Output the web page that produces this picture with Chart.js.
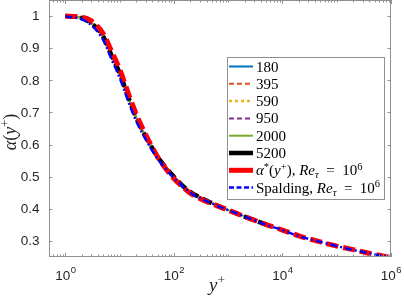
<!DOCTYPE html>
<html>
<head>
<meta charset="utf-8">
<script src="https://cdn.jsdelivr.net/npm/chart.js@4.4.1/dist/chart.umd.min.js"></script>
<style>
html,body{margin:0;padding:0;background:#fff}
#wrap{width:404px;height:305px}
</style>
</head>
<body>
<div id="wrap"><canvas id="c"></canvas></div>
<script>
// y+ grid of the DNS profiles (each one stops at its own Re_tau)
const yPlusDns = [1, 2, 3, 5, 7, 10, 15, 20, 30, 50, 70, 100, 180, 395, 590, 950, 2000, 5200];
const alpha180  = [1.000, 0.994, 0.978, 0.936, 0.880, 0.823, 0.740, 0.686, 0.626, 0.562, 0.530, 0.500, 0.460];
const alpha395  = [1.000, 0.994, 0.978, 0.936, 0.880, 0.823, 0.740, 0.686, 0.626, 0.562, 0.530, 0.500, 0.459, 0.427];
const alpha590  = [1.000, 0.994, 0.978, 0.936, 0.880, 0.823, 0.740, 0.686, 0.626, 0.562, 0.530, 0.500, 0.458, 0.426, 0.413];
const alpha950  = [1.000, 0.994, 0.978, 0.936, 0.880, 0.823, 0.740, 0.686, 0.626, 0.562, 0.530, 0.500, 0.458, 0.426, 0.412, 0.398];
const alpha2000 = [1.000, 0.994, 0.978, 0.936, 0.880, 0.823, 0.740, 0.686, 0.626, 0.562, 0.530, 0.500, 0.458, 0.426, 0.412, 0.397, 0.377];
const alpha5200 = [1.000, 0.994, 0.978, 0.936, 0.880, 0.823, 0.740, 0.686, 0.626, 0.562, 0.530, 0.500, 0.458, 0.426, 0.412, 0.397, 0.376, 0.350];

// model curves at Re_tau = 1e6
const yPlusModel = [1, 2, 3, 5, 7, 10, 15, 20, 30, 50, 70, 100, 150, 200, 300, 500, 700, 1000, 2000, 3000, 5000, 1e4, 2e4, 5e4, 1e5, 2e5, 5e5, 1e6];
const alphaStar = [1.000, 0.997, 0.985, 0.945, 0.893, 0.835, 0.752, 0.697, 0.632, 0.562, 0.526, 0.494, 0.466, 0.449, 0.432, 0.416, 0.406, 0.396, 0.376, 0.365, 0.351, 0.334, 0.316, 0.297, 0.284, 0.273, 0.258, 0.249];
const alphaSpalding = [0.999, 0.990, 0.972, 0.925, 0.868, 0.808, 0.727, 0.675, 0.617, 0.556, 0.525, 0.496, 0.468, 0.450, 0.433, 0.417, 0.406, 0.396, 0.376, 0.365, 0.350, 0.334, 0.315, 0.297, 0.284, 0.272, 0.258, 0.248];

const xTickVals = [1, 100, 1e4, 1e6];
const xTickExp = ['0', '2', '4', '6'];
const yTickVals = [0.3, 0.4, 0.5, 0.6, 0.7, 0.8, 0.9, 1];
const yTickText = ['0.3', '0.4', '0.5', '0.6', '0.7', '0.8', '0.9', '1'];

const legendLabels = [
  [{t: '180'}],
  [{t: '395'}],
  [{t: '590'}],
  [{t: '950'}],
  [{t: '2000'}],
  [{t: '5200'}],
  [{t: 'α', it: 1}, {t: '*', sup: 1}, {t: '('}, {t: 'y', it: 1}, {t: '+', sup: 1}, {t: '), '}, {t: 'Re', it: 1}, {t: 'τ', it: 1, sub: 1}, {t: '  =  10'}, {t: '6', sup: 1}],
  [{t: 'Spalding, '}, {t: 'Re', it: 1}, {t: 'τ', it: 1, sub: 1}, {t: '  =  10'}, {t: '6', sup: 1}]
];

function pts(xs, ys) {
  return ys.map((v, i) => ({x: xs[i], y: v}));
}

const series = [
  {data: pts(yPlusDns, alpha180), borderColor: '#0072BD', borderWidth: 2, borderDash: [], legendDash: []},
  {data: pts(yPlusDns, alpha395), borderColor: '#D95319', borderWidth: 2, borderDash: [6, 3], legendDash: [5, 3]},
  {data: pts(yPlusDns, alpha590), borderColor: '#EDB120', borderWidth: 2.5, borderDash: [2, 3], legendDash: [3, 3]},
  {data: pts(yPlusDns, alpha950), borderColor: '#7E2F8E', borderWidth: 2, borderDash: [6, 3, 2, 3], legendDash: [5, 3]},
  {data: pts(yPlusDns, alpha2000), borderColor: '#77AC30', borderWidth: 2, borderDash: [], legendDash: []},
  {data: pts(yPlusDns, alpha5200), borderColor: '#000000', borderWidth: 4.5, borderDash: [10, 5], legendDash: []},
  {data: pts(yPlusModel, alphaStar), borderColor: '#FF0000', borderWidth: 5, borderDash: [12, 5], legendDash: []},
  {data: pts(yPlusModel, alphaSpalding), borderColor: '#0000FF', borderWidth: 2.5, borderDash: [7, 3, 2, 3], legendDash: [5, 2.5]}
];

function drawRich(ctx, x, y, segs, size) {
  let cx = x;
  for (const s of segs) {
    const fs = (s.sup || s.sub) ? size * 0.7 : size;
    ctx.font = (s.it ? 'italic ' : '') + fs + 'px "Liberation Serif"';
    const dy = s.sup ? -size * 0.38 : (s.sub ? size * 0.2 : 0);
    ctx.fillText(s.t, cx, y + dy);
    cx += ctx.measureText(s.t).width;
  }
  return cx - x;
}

const framePlugin = {
  id: 'frame',
  afterDraw(chart) {
    const ctx = chart.ctx;
    const a = chart.chartArea;
    const xs = chart.scales.x, ys = chart.scales.y;
    ctx.save();
    // box
    ctx.strokeStyle = '#8f8f8f';
    ctx.lineWidth = 1;
    ctx.strokeRect(a.left + 0.5, a.top + 0.5, a.right - a.left - 1, a.bottom - a.top - 1);
    // ticks, inward
    ctx.beginPath();
    for (let e = -1; e <= 6; e++) {
      for (let m = 1; m <= 9; m++) {
        const v = m * Math.pow(10, e);
        if (v < xs.min || v > xs.max) continue;
        const px = Math.round(xs.getPixelForValue(v)) + 0.5;
        const len = xTickVals.includes(v) ? 4 : 2.5;
        ctx.moveTo(px, a.bottom); ctx.lineTo(px, a.bottom - len);
        ctx.moveTo(px, a.top); ctx.lineTo(px, a.top + len);
      }
    }
    for (const v of yTickVals) {
      const py = Math.round(ys.getPixelForValue(v)) + 0.5;
      ctx.moveTo(a.left, py); ctx.lineTo(a.left + 3.5, py);
      ctx.moveTo(a.right, py); ctx.lineTo(a.right - 3.5, py);
    }
    ctx.stroke();

    // y tick labels
    ctx.fillStyle = '#262626';
    ctx.font = '13.5px "Liberation Sans"';
    ctx.textAlign = 'right';
    ctx.textBaseline = 'middle';
    yTickVals.forEach((v, i) => {
      ctx.fillText(yTickText[i], 39.5, ys.getPixelForValue(v) + 0.5);
    });

    // x tick labels 10^n
    ctx.textBaseline = 'alphabetic';
    ctx.textAlign = 'left';
    xTickVals.forEach((v, i) => {
      const px = xs.getPixelForValue(v);
      ctx.font = '13.5px "Liberation Sans"';
      const w1 = ctx.measureText('10').width;
      ctx.font = '9.5px "Liberation Sans"';
      const w2 = ctx.measureText(xTickExp[i]).width;
      const x0 = px - (w1 + w2) / 2;
      ctx.font = '13.5px "Liberation Sans"';
      ctx.fillText('10', x0, 280);
      ctx.font = '9.5px "Liberation Sans"';
      ctx.fillText(xTickExp[i], x0 + w1 + 0.5, 273);
    });

    // axis titles
    ctx.fillStyle = '#262626';
    drawRich(ctx, 209, 291, [{t: 'y', it: 1}, {t: '+', sup: 1}], 19);
    ctx.save();
    ctx.translate(16, 131);
    ctx.rotate(-Math.PI / 2);
    ctx.font = 'italic 18px "Liberation Serif"';
    const tw = ctx.measureText('α(y)').width + 9;
    drawRich(ctx, -tw / 2, 0, [{t: 'α', it: 1}, {t: '('}, {t: 'y', it: 1}, {t: '+', sup: 1}, {t: ')'}], 18);
    ctx.restore();

    // legend
    const L = 227, T = 57, R = 384, B = 199;
    ctx.fillStyle = '#fff';
    ctx.fillRect(L, T, R - L, B - T);
    ctx.strokeStyle = '#8f8f8f';
    ctx.lineWidth = 1;
    ctx.strokeRect(L + 0.5, T + 0.5, R - L, B - T);
    chart.data.datasets.forEach((ds, i) => {
      const ry = 66.5 + i * 17.3;
      ctx.strokeStyle = ds.borderColor;
      ctx.lineWidth = ds.borderWidth;
      ctx.setLineDash(ds.legendDash);
      ctx.beginPath();
      ctx.moveTo(229, ry); ctx.lineTo(253, ry);
      ctx.stroke();
      ctx.setLineDash([]);
      ctx.fillStyle = '#000';
      drawRich(ctx, 256, ry + 5, legendLabels[i], 15);
    });
    ctx.restore();
  }
};

new Chart(document.getElementById('c'), {
  type: 'line',
  data: {
    datasets: series.map((s, i) => ({
      label: 'series' + i,
      data: s.data,
      borderColor: s.borderColor,
      borderWidth: s.borderWidth,
      borderDash: s.borderDash,
      legendDash: s.legendDash,
      pointRadius: 0,
      fill: false,
      cubicInterpolationMode: 'monotone',
      order: series.length - i
    }))
  },
  options: {
    responsive: true,
    maintainAspectRatio: false,
    animation: false,
    layout: {padding: {left: 0, right: 13, top: 0, bottom: 0}},
    plugins: {legend: {display: false}, tooltip: {enabled: false}},
    scales: {
      x: {
        type: 'logarithmic',
        min: 0.5,
        max: 1e6,
        grid: {display: false},
        border: {display: false},
        ticks: {display: false},
        afterFit: (axis) => { axis.height = 48; }
      },
      y: {
        type: 'linear',
        min: 0.25,
        max: 1.05,
        grid: {display: false},
        border: {display: false},
        ticks: {display: false},
        afterFit: (axis) => { axis.width = 49; }
      }
    }
  },
  plugins: [framePlugin]
});
</script>
</body>
</html>
